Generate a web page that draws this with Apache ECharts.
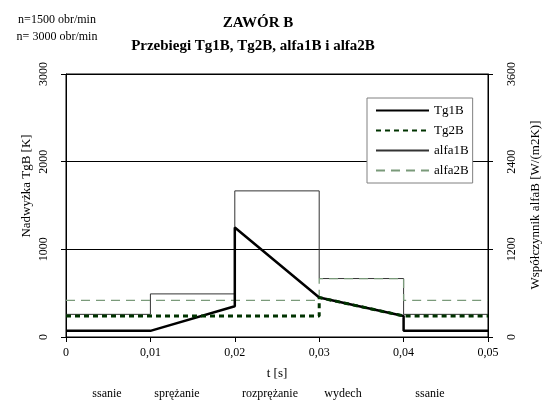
<!DOCTYPE html>
<html>
<head>
<meta charset="utf-8">
<script src="https://cdn.jsdelivr.net/npm/echarts@6/dist/echarts.min.js"></script>
<style>html,body{margin:0;padding:0;background:#fff}#c{width:547px;height:405px}</style>
</head>
<body>
<div id="c"></div>
<script>
// ---- data ----
const tg1B_t = [0, 0.01, 0.02, 0.02, 0.03, 0.04, 0.04, 0.05];
const tg1B_v = [70, 70, 350, 1250, 450, 240, 70, 70];
const tg2B_t = [0, 0.03, 0.03, 0.04, 0.05];
const tg2B_v = [240, 240, 450, 240, 240];
const alfa1B_t = [0, 0.01, 0.01, 0.02, 0.02, 0.03, 0.03, 0.04, 0.04, 0.05];
const alfa1B_v = [310, 310, 590, 590, 2000, 2000, 800, 800, 310, 310];
const alfa2B_t = [0, 0.03, 0.03, 0.04, 0.04, 0.05];
const alfa2B_v = [500, 500, 800, 800, 500, 500];
const xTicks = [0, 0.01, 0.02, 0.03, 0.04, 0.05];
const phases = ['ssanie', 'sprężanie', 'rozprężanie', 'wydech', 'ssanie'];
const seriesNames = ['Tg1B', 'Tg2B', 'alfa1B', 'alfa2B'];

const pair = (t, v) => t.map((x, i) => [x, v[i]]);
const F = 'Liberation Serif';
const phaseX = [107, 177, 270, 343, 430];

const chart = echarts.init(document.getElementById('c'), null, {renderer: 'canvas'});
chart.setOption({
  animation: false,
  backgroundColor: '#fff',
  textStyle: {fontFamily: F, color: '#000'},
  grid: {left: 66, right: 59, top: 74, bottom: 68, show: true, borderColor: '#000', borderWidth: 1, backgroundColor: 'transparent'},
  legend: {
    orient: 'vertical', left: 367, top: 98,
    itemWidth: 53, itemHeight: 14, itemGap: 7, itemTextGap: 3,
    padding: [6, 4, 6, 8],
    backgroundColor: '#fff', borderColor: '#808080', borderWidth: 1,
    itemStyle: {opacity: 0},
    textStyle: {fontFamily: F, fontSize: 13, color: '#000'},
    data: seriesNames
  },
  xAxis: {
    type: 'value', min: 0, max: 0.05, interval: 0.01,
    name: 't [s]', nameLocation: 'middle', nameGap: 30,
    nameTextStyle: {fontFamily: F, fontSize: 13, color: '#000'},
    axisLine: {lineStyle: {color: '#000', width: 1}},
    axisTick: {show: true, length: 5, inside: false, lineStyle: {color: '#000'}},
    axisLabel: {fontFamily: F, fontSize: 12, color: '#000', margin: 10,
      formatter: v => xTicks.includes(+v.toFixed(2)) ? (v === 0 ? '0' : v.toFixed(2).replace('.', ',')) : ''},
    splitLine: {show: false}
  },
  yAxis: [{
    type: 'value', min: 0, max: 3000, interval: 1000, position: 'left',
    axisLine: {show: true, lineStyle: {color: '#000'}},
    axisTick: {show: true, length: 5, lineStyle: {color: '#000'}},
    axisLabel: {fontFamily: F, fontSize: 12, color: '#000', rotate: 90, margin: 16, formatter: v => String(v)},
    splitLine: {show: true, lineStyle: {color: '#000', width: 1}}
  }, {
    type: 'value', min: 0, max: 3600, interval: 1200, position: 'right',
    axisLine: {show: true, lineStyle: {color: '#000'}},
    axisTick: {show: true, length: 5, lineStyle: {color: '#000'}},
    axisLabel: {fontFamily: F, fontSize: 12, color: '#000', rotate: 90, margin: 18, formatter: v => String(v)},
    splitLine: {show: false}
  }],
  series: [
    {name: 'Tg1B', type: 'line', yAxisIndex: 0, symbol: 'none', z: 4,
     data: pair(tg1B_t, tg1B_v), lineStyle: {color: '#000', width: 2.5}, itemStyle: {color: '#000'}},
    {name: 'Tg2B', type: 'line', yAxisIndex: 0, symbol: 'none', z: 5,
     data: pair(tg2B_t, tg2B_v), lineStyle: {color: '#003300', width: 3, type: [5, 4]}, itemStyle: {color: '#003300'}},
    {name: 'alfa1B', type: 'line', yAxisIndex: 1, symbol: 'none', z: 3,
     data: pair(alfa1B_t, alfa1B_v), lineStyle: {color: '#333', width: 1}, itemStyle: {color: '#333'}},
    {name: 'alfa2B', type: 'line', yAxisIndex: 1, symbol: 'none', z: 3,
     data: pair(alfa2B_t, alfa2B_v), lineStyle: {color: '#7a9a7a', width: 1.3, type: [9, 6]}, itemStyle: {color: '#2d5a2d'}}
  ],
  graphic: [
    {type: 'text', position: [258, 23], style: {text: 'ZAWÓR B', font: 'bold 15px "Liberation Serif"', fill: '#000', align: 'center', verticalAlign: 'middle'}},
    {type: 'text', position: [253, 46], style: {text: 'Przebiegi Tg1B, Tg2B, alfa1B i alfa2B', font: 'bold 15px "Liberation Serif"', fill: '#000', align: 'center', verticalAlign: 'middle'}},
    {type: 'text', position: [57, 20], style: {text: 'n=1500 obr/min', font: '12px "Liberation Serif"', fill: '#000', align: 'center', verticalAlign: 'middle'}},
    {type: 'text', position: [57, 37], style: {text: 'n= 3000 obr/min', font: '12px "Liberation Serif"', fill: '#000', align: 'center', verticalAlign: 'middle'}},
    {type: 'text', position: [27, 186], rotation: Math.PI / 2, style: {text: 'Nadwyżka TgB [K]', font: '13px "Liberation Serif"', fill: '#000', align: 'center', verticalAlign: 'middle'}},
    {type: 'text', position: [536, 205], rotation: Math.PI / 2, style: {text: 'Współczynnik alfaB [W/(m2K)]', font: '13px "Liberation Serif"', fill: '#000', align: 'center', verticalAlign: 'middle'}}
  ].concat(phases.map((p, i) => ({
    type: 'text', position: [phaseX[i], 394],
    style: {text: p, font: '12px "Liberation Serif"', fill: '#000', align: 'center', verticalAlign: 'middle'}
  })))
});
</script>
</body>
</html>
